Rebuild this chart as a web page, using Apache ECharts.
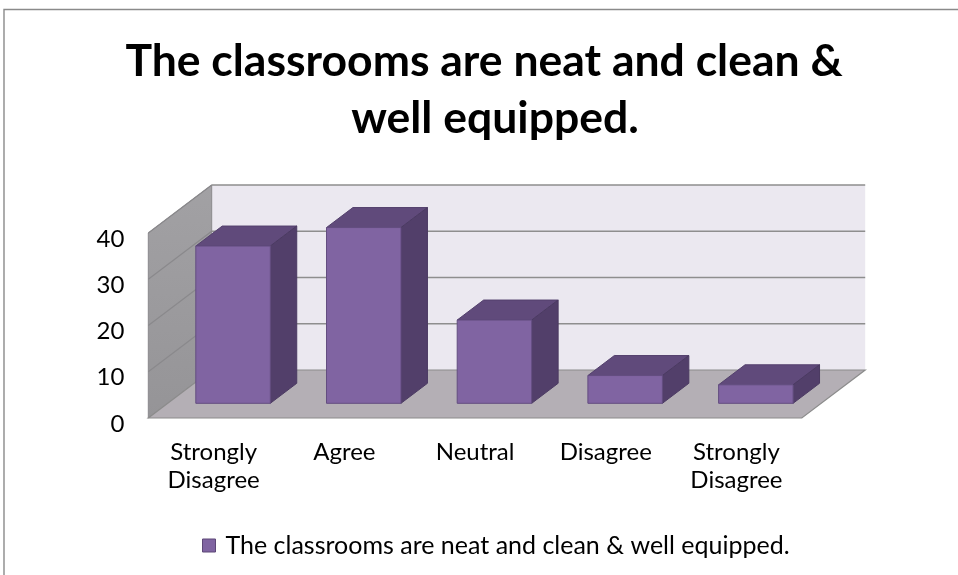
<!DOCTYPE html>
<html>
<head>
<meta charset="utf-8">
<script src="https://cdn.jsdelivr.net/npm/echarts@6/dist/echarts.min.js"></script>
<style>
  html, body { margin: 0; padding: 0; background: #fff; }
  #chart { width: 958px; height: 575px; }
</style>
</head>
<body>
<div id="chart"></div>
<script>
// data
const categories = ['Strongly\nDisagree', 'Agree', 'Neutral', 'Disagree', 'Strongly\nDisagree'];
const values = [34, 38, 18, 6, 4];
const yTicks = [0, 10, 20, 30, 40];
const seriesName = 'The classrooms are neat and clean & well equipped.';
const titleLines = ['The classrooms are neat and clean &', 'well equipped.'];

// oblique depth of the 3D box (front plane -> back wall)
const DX = 63.4, DY = -48;
const BAR_F0 = 0.306, BAR_DEPTH = 0.417, BAR_W = 0.57;
const FONT = 'Lato, "DejaVu Sans", sans-serif';

let myChart = echarts.init(document.getElementById('chart'));

function renderWalls(params, api) {
    let cs = params.coordSys;
    let x0 = cs.x, x1 = cs.x + cs.width;
    let yb = api.coord([0, 0])[1];
    let yt = api.coord([0, yTicks[yTicks.length - 1]])[1];
    let children = [];
    // back wall
    children.push({
        type: 'polygon',
        shape: { points: [[x0 + DX, yt + DY], [x1 + DX, yt + DY], [x1 + DX, yb + DY], [x0 + DX, yb + DY]] },
        style: { fill: '#ebe8f0', stroke: null }
    });
    // left wall
    children.push({
        type: 'polygon',
        shape: { points: [[x0, yb], [x0, yt], [x0 + DX, yt + DY], [x0 + DX, yb + DY]] },
        style: {
            fill: new echarts.graphic.LinearGradient(0, 0, 0, 1, [
                { offset: 0, color: '#a2a1a4' },
                { offset: 1, color: '#959497' }
            ]),
            stroke: '#8a898c', lineWidth: 1
        }
    });
    // floor
    children.push({
        type: 'polygon',
        shape: { points: [[x0, yb], [x1, yb], [x1 + DX, yb + DY], [x0 + DX, yb + DY]] },
        style: { fill: '#b4afb5', stroke: '#8c8c8c', lineWidth: 1.2 }
    });
    // grid lines on back wall and left wall
    yTicks.forEach(function (t) {
        if (t === 0) return;
        let y = api.coord([0, t])[1];
        children.push({
            type: 'line',
            shape: { x1: x0 + DX, y1: y + DY, x2: x1 + DX, y2: y + DY },
            style: { stroke: '#8e8e8e', lineWidth: 1.6 }
        });
        children.push({
            type: 'line',
            shape: { x1: x0, y1: y, x2: x0 + DX, y2: y + DY },
            style: { stroke: '#8a898c', lineWidth: 1.2 }
        });
    });
    return { type: 'group', children: children };
}

function renderBar(params, api) {
    let idx = api.value(0);
    let top = api.coord([idx, api.value(1)]);
    let base = api.coord([idx, 0]);
    let band = api.size([1, 0])[0];
    let w = band * BAR_W;
    let xa = top[0] - w / 2 + BAR_F0 * DX;
    let xb = xa + w;
    let yTop = top[1] + BAR_F0 * DY;
    let yBot = base[1] + BAR_F0 * DY;
    let ddx = BAR_DEPTH * DX, ddy = BAR_DEPTH * DY;
    return {
        type: 'group',
        children: [
            {
                type: 'polygon',
                shape: { points: [[xa, yTop], [xb, yTop], [xb + ddx, yTop + ddy], [xa + ddx, yTop + ddy]] },
                style: { fill: '#604a7b', stroke: '#54416d', lineWidth: 1 }
            },
            {
                type: 'polygon',
                shape: { points: [[xb, yTop], [xb + ddx, yTop + ddy], [xb + ddx, yBot + ddy], [xb, yBot]] },
                style: { fill: '#523f6a', stroke: '#4b3a62', lineWidth: 1 }
            },
            {
                type: 'rect',
                shape: { x: xa, y: yTop, width: w, height: yBot - yTop },
                style: { fill: '#8064a2', stroke: '#634d80', lineWidth: 1 }
            }
        ]
    };
}

let option = {
    animation: false,
    backgroundColor: '#fff',
    graphic: [
        {
            type: 'rect',
            shape: { x: 4, y: 9.5, width: 1000, height: 600 },
            style: { fill: null, stroke: '#8a8a8a', lineWidth: 1.4 },
            silent: true
        },
        {
            type: 'text',
            x: 484, y: 61.5,
            style: {
                text: titleLines[0],
                align: 'center', verticalAlign: 'middle',
                font: 'bold 44.5px ' + FONT,
                fill: '#000'
            }
        },
        {
            type: 'text',
            x: 495, y: 118.5,
            style: {
                text: titleLines[1],
                align: 'center', verticalAlign: 'middle',
                font: 'bold 44.5px ' + FONT,
                fill: '#000'
            }
        }
    ],
    legend: {
        data: [seriesName],
        left: 202,
        top: 533,
        padding: 0,
        icon: 'rect',
        itemWidth: 13,
        itemHeight: 13,
        itemStyle: { color: '#8064a2', borderColor: '#5d4777', borderWidth: 1 },
        textStyle: { fontFamily: FONT, fontSize: 25, lineHeight: 25, color: '#000', padding: [0, 0, 0, 5] }
    },
    grid: {
        left: 148.3,
        top: 233,
        width: 653.5,
        height: 185
    },
    xAxis: {
        type: 'category',
        data: categories,
        boundaryGap: true,
        axisLine: { show: false },
        axisTick: { show: false },
        splitLine: { show: false },
        axisLabel: {
            interval: 0,
            margin: 20,
            fontFamily: FONT,
            fontSize: 24,
            lineHeight: 28,
            color: '#000'
        }
    },
    yAxis: {
        type: 'value',
        min: 0,
        max: yTicks[yTicks.length - 1],
        interval: 10,
        axisLine: { show: false },
        axisTick: { show: false },
        splitLine: { show: false },
        axisLabel: {
            margin: 24,
            fontFamily: FONT,
            fontSize: 24,
            color: '#000',
            verticalAlign: 'top',
            lineHeight: 12
        }
    },
    series: [
        {
            name: 'walls',
            type: 'custom',
            silent: true,
            renderItem: renderWalls,
            data: [[0, 0]],
            z: 1
        },
        {
            name: seriesName,
            type: 'custom',
            renderItem: renderBar,
            itemStyle: { color: '#8064a2' },
            encode: { x: 0, y: 1 },
            data: values.map(function (v, i) { return [i, v]; }),
            z: 2
        }
    ]
};

myChart.setOption(option);
</script>
</body>
</html>
